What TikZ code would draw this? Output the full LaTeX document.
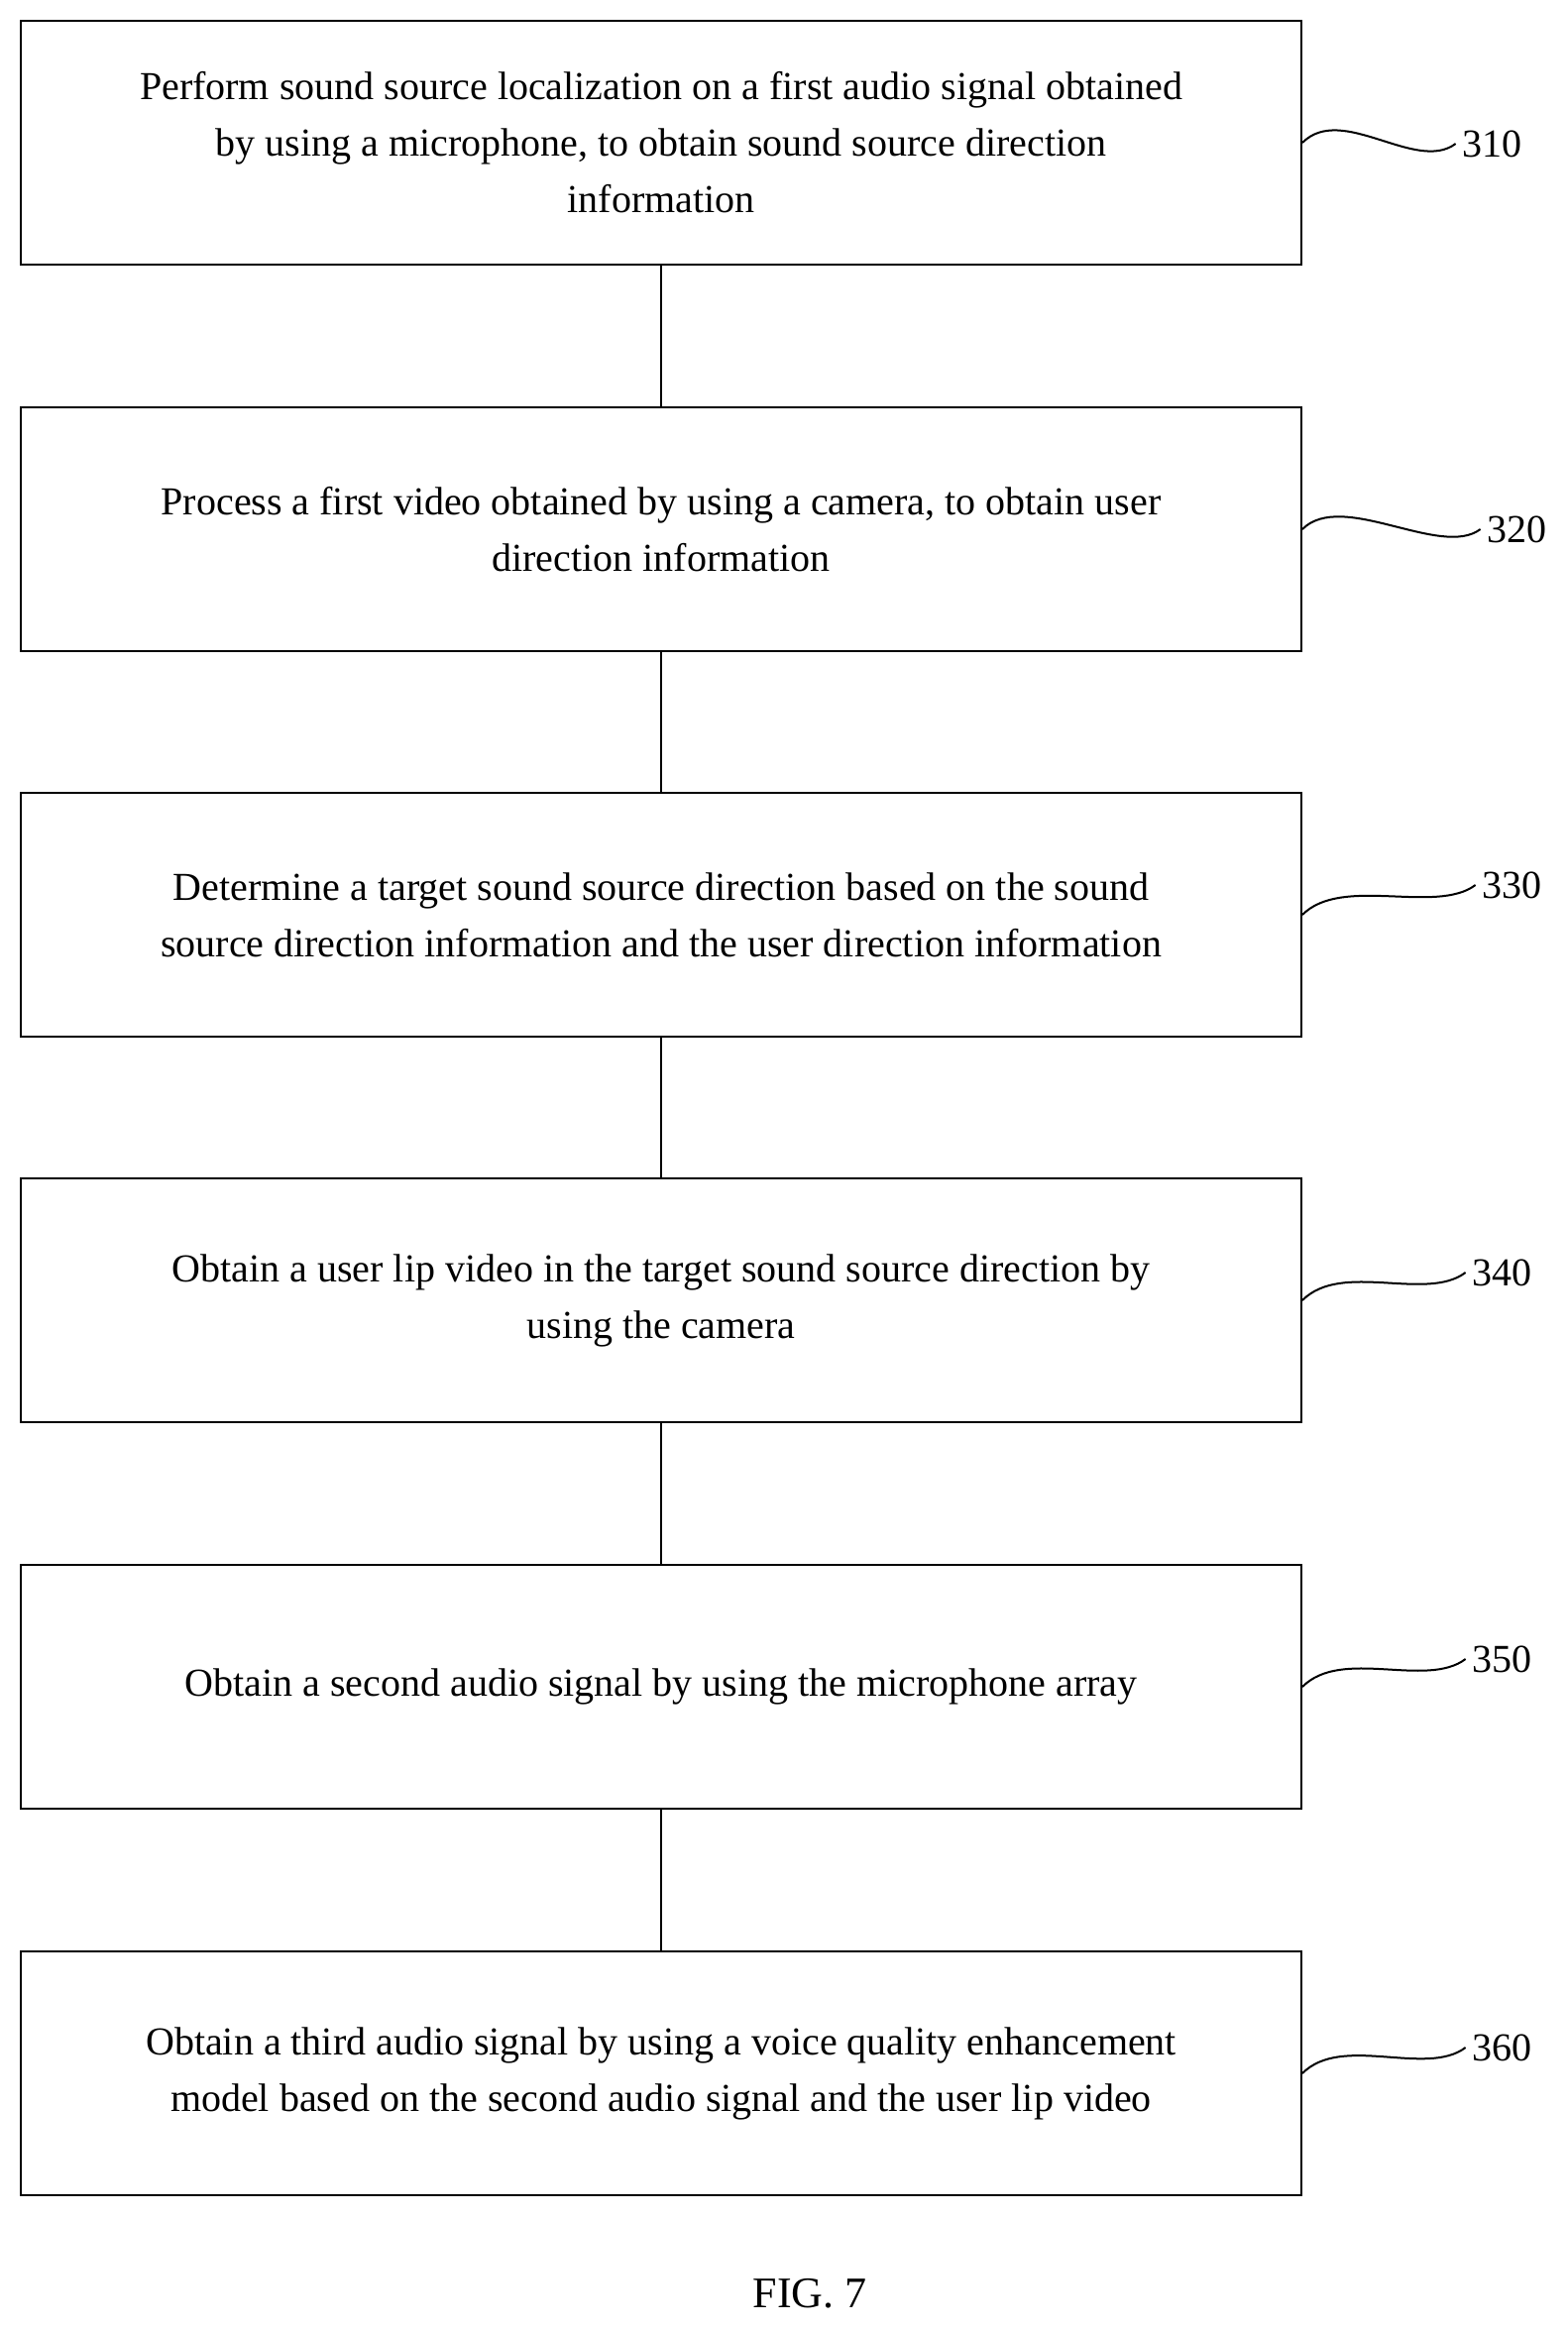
\documentclass[tikz,border=0pt]{standalone}
\usepackage{fontspec}
\setmainfont{Liberation Serif}
\usetikzlibrary{positioning}
\begin{document}
\begin{tikzpicture}[x=0.5pt,y=-0.5pt]
	
	\tikzstyle{stepbox} = [draw,line width=1pt,minimum width=646pt,minimum height=123pt,align=center,font=\fontsize{20}{28.5}\selectfont]
	\tikzstyle{tag} = [font=\fontsize{20}{23}\selectfont,inner sep=3pt]
	\tikzstyle{link} = [line width=1pt]
	
	\useasboundingbox (0,0) rectangle (1582,2349);
	
	\node[stepbox] (s310) at (667,144) {Perform sound source localization on a first audio signal obtained\\by using a microphone, to obtain sound source direction\\information};
	\node[stepbox] (s320) at (667,534) {Process a first video obtained by using a camera, to obtain user\\direction information};
	\node[stepbox] (s330) at (667,923) {Determine a target sound source direction based on the sound\\source direction information and the user direction information};
	\node[stepbox] (s340) at (667,1312) {Obtain a user lip video in the target sound source direction by\\using the camera};
	\node[stepbox] (s350) at (667,1702) {Obtain a second audio signal by using the microphone array};
	\node[stepbox] (s360) at (667,2092) {Obtain a third audio signal by using a voice quality enhancement\\model based on the second audio signal and the user lip video};
	
	\node[tag] (t310) at (1505,145) {310};
	\node[tag] (t320) at (1530,534) {320};
	\node[tag] (t330) at (1525,893) {330};
	\node[tag] (t340) at (1515,1284) {340};
	\node[tag] (t350) at (1515,1674) {350};
	\node[tag] (t360) at (1515,2066) {360};
	
	\draw[link] (s310) -- (s320);
	\draw[link] (s320) -- (s330);
	\draw[link] (s330) -- (s340);
	\draw[link] (s340) -- (s350);
	\draw[link] (s350) -- (s360);
	
	\foreach \n in {310,320,330,340,350,360}
		\draw[link] (s\n.east) .. controls +(40,-40) and +(-40,30) .. (t\n.west);
	
	\node[font=\fontsize{22}{26}\selectfont] (fig) at (817,2314) {FIG. 7};

\end{tikzpicture}
\end{document}
